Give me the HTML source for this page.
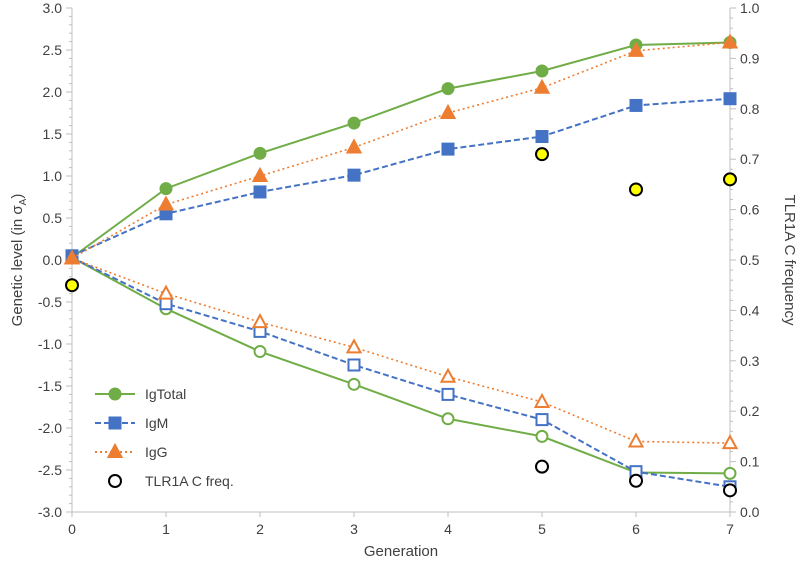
<!DOCTYPE html>
<html><head><meta charset="utf-8"><style>
body{margin:0;background:#fff;font-family:"Liberation Sans",sans-serif}
text{font-family:"Liberation Sans",sans-serif;fill:#404040}
</style></head><body>
<svg id="c" width="797" height="567"></svg>
<script>
const gens=[0,1,2,3,4,5,6,7];
const totalUp=[0.03,0.85,1.27,1.63,2.04,2.25,2.56,2.59];
const igmUp=[0.05,0.55,0.81,1.01,1.32,1.47,1.84,1.92];
const iggUp=[0.02,0.66,1.00,1.34,1.75,2.05,2.49,2.59];
const totalDn=[0.03,-0.58,-1.09,-1.48,-1.89,-2.10,-2.53,-2.54];
const igmDn=[0.03,-0.52,-0.85,-1.25,-1.60,-1.90,-2.52,-2.70];
const iggDn=[0.02,-0.40,-0.74,-1.04,-1.39,-1.69,-2.16,-2.18];
const freqGens=[0,5,6,7];
const freqUp=[0.45,0.71,0.64,0.66];
const freqDnGens=[5,6,7];
const freqDn=[0.09,0.062,0.043];
const leftTicks=["3.0","2.5","2.0","1.5","1.0","0.5","0.0","-0.5","-1.0","-1.5","-2.0","-2.5","-3.0"];
const rightTicks=["1.0","0.9","0.8","0.7","0.6","0.5","0.4","0.3","0.2","0.1","0.0"];

const svg=document.getElementById('c');const NS='http://www.w3.org/2000/svg';
const X0=72,X1=730,Y0=8,Y1=512;
const x=g=>X0+(X1-X0)*g/7;
const y=v=>Y0+(3-v)/6*(Y1-Y0);
const yr=f=>Y1-f*(Y1-Y0);
function mk(t,a,p){const e=document.createElementNS(NS,t);for(const k in a)e.setAttribute(k,a[k]);(p||svg).appendChild(e);return e;}
// axes
let ax=mk('line',{x1:X0,y1:Y0,x2:X0,y2:Y1,stroke:'#bfbfbf'});

ax=mk('line',{x1:X1,y1:Y0,x2:X1,y2:Y1,stroke:'#bfbfbf'});

ax=mk('line',{x1:X0,y1:Y1,x2:X1,y2:Y1,stroke:'#bfbfbf'});

for(let i=0;i<=60;i++){const yy=Y0+i*(Y1-Y0)/60;mk('line',{x1:X0-(i%5?3:6),y1:yy,x2:X0,y2:yy,stroke:'#bfbfbf'});}
for(let i=0;i<=50;i++){const yy=Y0+i*(Y1-Y0)/50;mk('line',{x1:X1,y1:yy,x2:X1+(i%5?3:6),y2:yy,stroke:'#bfbfbf'});}
leftTicks.forEach((t,i)=>{const e=mk('text',{x:X0-10,y:Y0+i*42+5,'text-anchor':'end','font-size':14});e.textContent=t;
});
rightTicks.forEach((t,i)=>{const e=mk('text',{x:X1+10,y:yr(1-i/10)+5,'font-size':14});e.textContent=t;
});
gens.forEach(g=>{mk('line',{x1:x(g),y1:Y1,x2:x(g),y2:Y1+5,stroke:'#bfbfbf'});const e=mk('text',{x:x(g),y:Y1+22,'text-anchor':'middle','font-size':14});e.textContent=g;
});
let t=mk('text',{x:401,y:556,'text-anchor':'middle','font-size':15});t.textContent='Generation';

t=mk('text',{transform:'translate(22,260) rotate(-90)','text-anchor':'middle','font-size':15});
t.innerHTML='Genetic level (in σ<tspan font-size="10" dy="4">A</tspan><tspan dy="-4">)</tspan>';

t=mk('text',{transform:'translate(785,260) rotate(90)','text-anchor':'middle','font-size':15});t.textContent='TLR1A C frequency';


const G='#70ad47',B='#4472c4',O='#ed7d31';
function marker(type,cx,cy,col,filled){
 const f=filled?col:'#fff';let e;
 if(type==='c')e=mk('circle',{cx,cy,r:5.5,fill:f,stroke:col,'stroke-width':2});
 else if(type==='s')e=mk('rect',{x:cx-5.5,y:cy-5.5,width:11,height:11,fill:f,stroke:col,'stroke-width':2});
 else e=mk('polygon',{points:`${cx},${cy-7} ${cx+6.5},${cy+5} ${cx-6.5},${cy+5}`,fill:f,stroke:col,'stroke-width':2});
 return e;}
function series(vals,col,dash,type,filled,name){
 const l=mk('polyline',{points:vals.map((v,i)=>x(gens[i])+','+y(v)).join(' '),fill:'none',stroke:col,'stroke-width':dash==='dot'?1.6:2,'stroke-dasharray':dash==='dash'?'6,3':dash==='dot'?'2,3':'none'});
 
 vals.forEach((v,i)=>{const m=marker(type,x(gens[i]),y(v),col,filled);
 });}
series(totalDn,G,'solid','c',false,'igtotal-low');
series(igmDn,B,'dash','s',false,'igm-low');
series(iggDn,O,'dot','t',false,'igg-low');
series(totalUp,G,'solid','c',true,'igtotal-high');
series(igmUp,B,'dash','s',true,'igm-high');
series(iggUp,O,'dot','t',true,'igg-high');
freqUp.forEach((f,i)=>{const e=mk('circle',{cx:x(freqGens[i]),cy:yr(f),r:6,fill:'#ffff00',stroke:'#000','stroke-width':2});
});
freqDn.forEach((f,i)=>{const e=mk('circle',{cx:x(freqDnGens[i]),cy:yr(f),r:6,fill:'#fff',stroke:'#000','stroke-width':2});
});
// legend
const lg=mk('g',{});
const items=[['IgTotal',G,'solid','c',true],['IgM',B,'dash','s',true],['IgG',O,'dot','t',true],['TLR1A C freq.',null,null,'o',false]];
items.forEach((it,i)=>{const yy=394+i*29;
 if(it[1]){mk('line',{x1:95,y1:yy,x2:135,y2:yy,stroke:it[1],'stroke-width':2,'stroke-dasharray':it[2]==='dash'?'6,3':it[2]==='dot'?'2,3':'none'},lg);
  const m=marker(it[3],115,yy,it[1],true);lg.appendChild(m);}
 else mk('circle',{cx:115,cy:yy,r:6,fill:'#fff',stroke:'#000','stroke-width':2},lg);
 const e=mk('text',{x:145,y:yy+5,'font-size':14},lg);e.textContent=it[0];
 });
</script></body></html>
